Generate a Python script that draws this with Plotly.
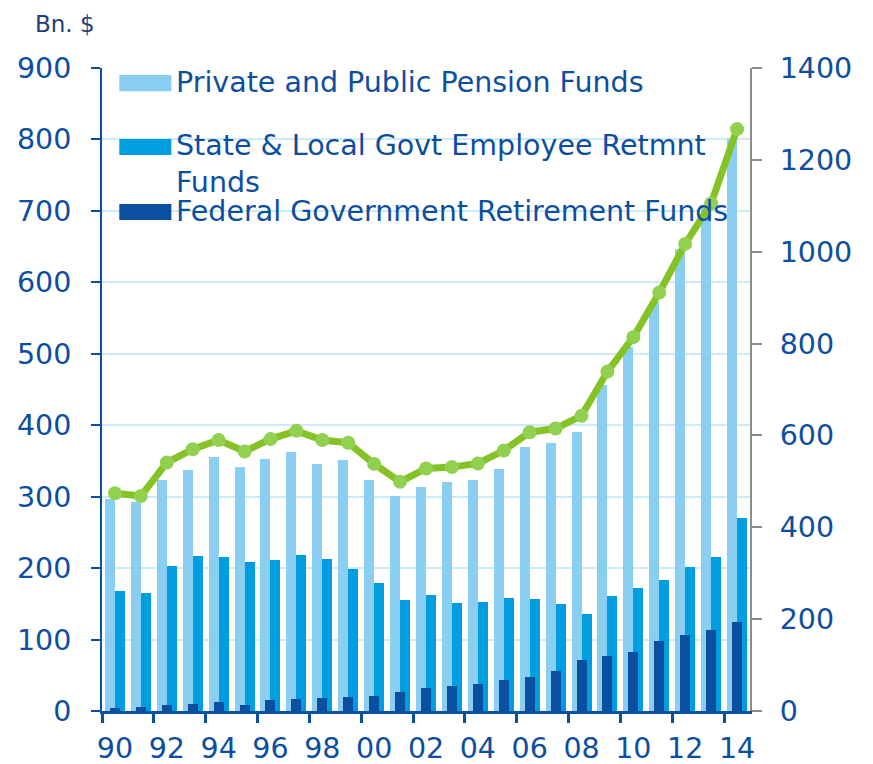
"""
Pension fund assets, 1990-2014: bars on the left axis, total line on the right axis.
"""
import plotly.graph_objects as go

YEARS = list(range(1990, 2015))
TICK_YEARS = YEARS[::2]
TICK_LABELS = [f"{y % 100:02d}" for y in TICK_YEARS]

private_public = [297, 292, 324, 337, 355, 342, 353, 363, 346, 351, 324, 301, 313,
                  321, 323, 339, 370, 375, 391, 457, 509, 572, 647, 708, 800]
state_local = [168, 165, 203, 217, 215, 208, 212, 219, 213, 199, 179, 156, 162,
               151, 152, 158, 157, 150, 136, 161, 172, 183, 202, 215, 270]
federal = [4, 6, 8, 10, 12, 8, 15, 17, 18, 20, 21, 26, 32,
           35, 38, 43, 48, 56, 72, 77, 83, 98, 106, 114, 125]
total_rhs = [474, 468, 541, 570, 590, 565, 592, 610, 590, 584, 538, 499, 528,
             531, 539, 567, 607, 615, 643, 739, 814, 911, 1017, 1105, 1267]

LEGEND_NAMES = ["Private and Public Pension Funds",
                "State & Local Govt Employee Retmnt<br>Funds",
                "Federal Government Retirement Funds"]

LIGHT = "#8acff1"
MID = "#009ee0"
DARK = "#0b4fa0"
GREEN = "#84c225"
GREEN_DOT = "#92d050"
TEXT = "#0d4ea0"
GRID = "#cceaf8"
GREY = "#8c8c8c"
FONT = "DejaVu Sans"
W = 0.386  # bar width in year units

fig = go.Figure()
fig.add_trace(go.Bar(x=YEARS, y=private_public, width=W, offset=-W,
                     marker={'color': LIGHT, 'line': {'width': 0}}, name=LEGEND_NAMES[0]))
fig.add_trace(go.Bar(x=YEARS, y=state_local, width=W, offset=0,
                     marker={'color': MID, 'line': {'width': 0}}, name=LEGEND_NAMES[1]))
fig.add_trace(go.Bar(x=YEARS, y=federal, width=W, offset=-W / 2,
                     marker={'color': DARK, 'line': {'width': 0}}, name=LEGEND_NAMES[2]))
fig.add_trace(go.Scatter(x=YEARS, y=total_rhs, yaxis='y2', mode='lines+markers',
                         line={'color': GREEN, 'width': 7},
                         marker={'color': GREEN_DOT, 'size': 14},
                         name='Total (rhs)'))

# hand-made legend: wide swatches like the original
swatch_rows = [(0.989, 0.964, 0.978), (0.8896, 0.8647, 0.8507), (0.7885, 0.7636, 0.7776)]
for (y0, y1, ytext), name, color in zip(swatch_rows, LEGEND_NAMES, [LIGHT, MID, DARK]):
    fig.add_shape(type='rect', xref='paper', yref='paper', x0=0.0267, x1=0.107,
                  y0=y1, y1=y0, fillcolor=color, line={'width': 0}, layer='above')
    fig.add_annotation(xref='paper', yref='paper', x=0.111, y=ytext, text=name,
                       xanchor='left', yanchor='middle', align='left', showarrow=False,
                       font={'family': FONT, 'size': 28.5, 'color': TEXT})

fig.add_annotation(xref='paper', yref='paper', x=-0.107, y=1.091, text='Bn. $',
                   xanchor='left', yanchor='top', showarrow=False,
                   font={'family': FONT, 'size': 23, 'color': '#1f3d7a'})

# the page body adds an 8px margin, so the figure is 8px smaller each way
fig.update_layout(
    width=865, height=756,
    margin={'l': 94, 'r': 123, 't': 60, 'b': 53},
    paper_bgcolor='white', plot_bgcolor='white',
    barmode='overlay', bargap=0, showlegend=False,
    font={'family': FONT, 'size': 28.5, 'color': TEXT},
    xaxis={
        'range': [1989.5, 2014.5], 'tickvals': TICK_YEARS, 'ticktext': TICK_LABELS,
        'ticks': '', 'showgrid': False, 'zeroline': False, 'automargin': False,
        'showline': True, 'linecolor': DARK, 'linewidth': 2.5,
        'ticklabelstandoff': 10,
        'minor': {'tickvals': [y - 0.5 for y in TICK_YEARS],
                  'ticks': 'outside', 'ticklen': 9, 'tickwidth': 2.5,
                  'tickcolor': DARK, 'showgrid': False},
    },
    yaxis={
        'range': [0, 900], 'dtick': 100, 'showgrid': True, 'gridcolor': GRID,
        'gridwidth': 1.5, 'zeroline': False, 'showline': True, 'linecolor': DARK,
        'linewidth': 2, 'ticks': 'outside', 'ticklen': 9, 'tickwidth': 2,
        'tickcolor': DARK, 'ticklabelstandoff': 14, 'automargin': False,
    },
    yaxis2={
        'range': [0, 1400], 'dtick': 200, 'overlaying': 'y', 'side': 'right',
        'showgrid': False, 'zeroline': False, 'showline': True, 'linecolor': GREY,
        'linewidth': 2, 'ticks': 'outside', 'ticklen': 10, 'tickwidth': 2,
        'tickcolor': GREY, 'ticklabelstandoff': 12, 'automargin': False,
    },
)

fig.write_html("out.html")
